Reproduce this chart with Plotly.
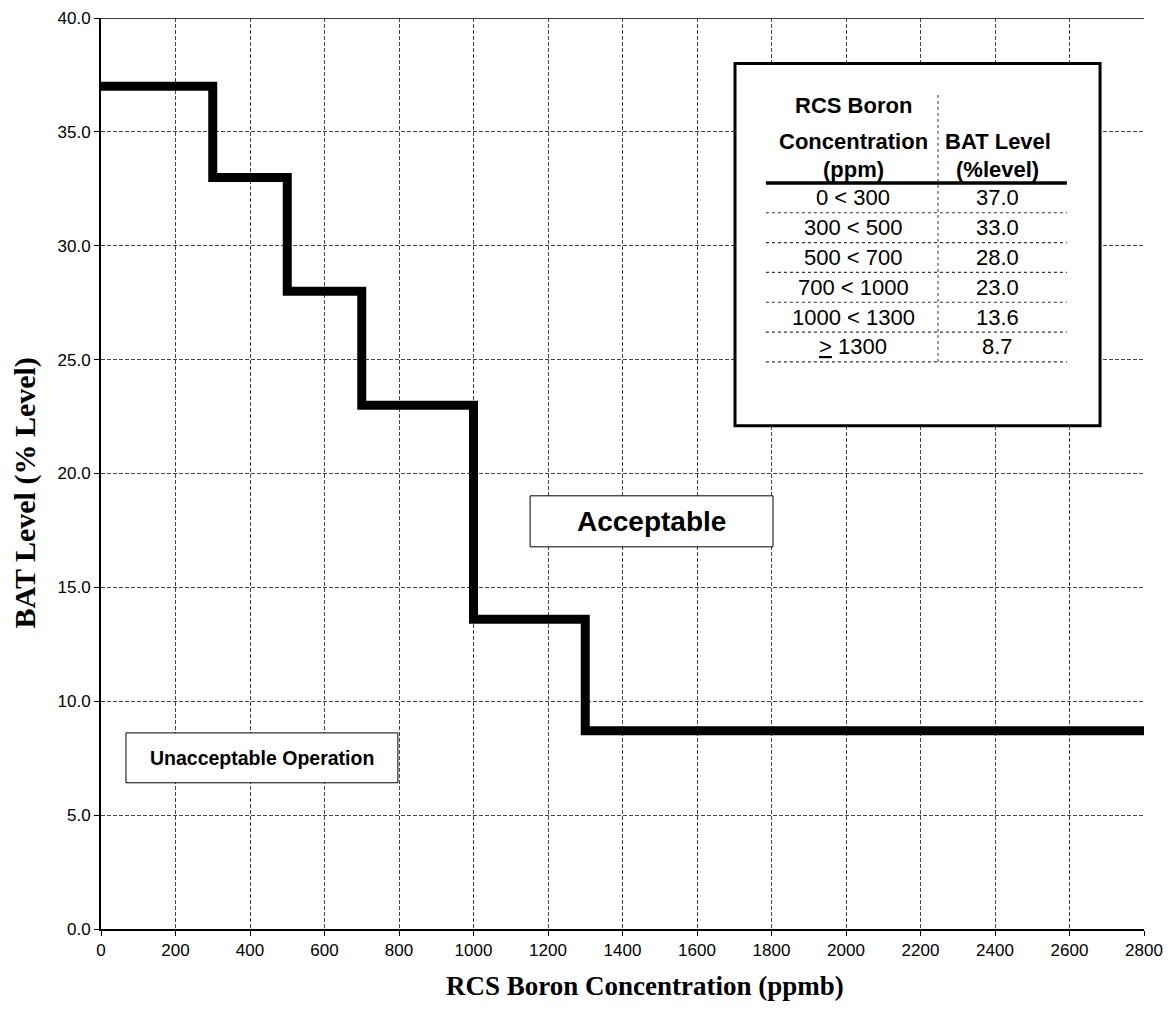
import plotly.graph_objects as go

# Step curve data
boron = [0, 300, 500, 700, 1000, 1300, 2800]
bat = [37.0, 33.0, 28.0, 23.0, 13.6, 8.7, 8.7]

# Table content
table_ranges = ["0 < 300", "300 < 500", "500 < 700", "700 < 1000", "1000 < 1300", "<u>></u> 1300"]
table_levels = ["37.0", "33.0", "28.0", "23.0", "13.6", "8.7"]

x_ticks = list(range(0, 2801, 200))
y_ticks = [0, 5, 10, 15, 20, 25, 30, 35, 40]

SANS = "Liberation Sans, Arial, sans-serif"
SERIF = "Liberation Serif, Times New Roman, serif"

fig = go.Figure()
fig.add_trace(go.Scatter(
    x=boron, y=bat, mode="lines", line=dict(shape="hv", color="black", width=9),
    showlegend=False, hoverinfo="skip"))

shapes = []
annotations = []

# top frame line
shapes.append(dict(type="line", xref="x", yref="y", x0=0, x1=2800, y0=40, y1=40,
                   line=dict(color="black", width=1.5)))

# Table box
tx0, tx1, ty0, ty1 = 1702, 2682, 22.1, 38.0
shapes.append(dict(type="rect", x0=tx0, x1=tx1, y0=ty0, y1=ty1, xref="x", yref="y",
                   line=dict(color="black", width=3), fillcolor="white", layer="above"))
col1_x, col2_x, div_x = 2019, 2408, 2247
line_x0, line_x1 = 1785, 2593
header_line_y = 32.76
row_h = 1.31
shapes.append(dict(type="line", x0=line_x0, x1=line_x1, y0=header_line_y, y1=header_line_y,
                   line=dict(color="black", width=3.5), layer="above"))
shapes.append(dict(type="line", x0=div_x, x1=div_x, y0=header_line_y - row_h * len(table_ranges), y1=36.7,
                   line=dict(color="#333", width=1, dash="dot"), layer="above"))
for i in range(len(table_ranges)):
    yl = header_line_y - row_h * (i + 1)
    shapes.append(dict(type="line", x0=line_x0, x1=line_x1, y0=yl, y1=yl,
                       line=dict(color="#333", width=1.2, dash="dot"), layer="above"))
    yc = header_line_y - row_h * (i + 0.5)
    annotations.append(dict(x=col1_x, y=yc, text=table_ranges[i], showarrow=False,
                            font=dict(family=SANS, size=22, color="black")))
    annotations.append(dict(x=col2_x, y=yc, text=table_levels[i], showarrow=False,
                            font=dict(family=SANS, size=22, color="black")))

hdr_font = dict(family=SANS, size=22, color="black")
annotations += [
    dict(x=col1_x, y=36.14, text="<b>RCS Boron</b>", showarrow=False, font=hdr_font),
    dict(x=col1_x, y=34.56, text="<b>Concentration</b>", showarrow=False, font=hdr_font),
    dict(x=col1_x, y=33.33, text="<b>(ppm)</b>", showarrow=False, font=hdr_font),
    dict(x=col2_x, y=34.56, text="<b>BAT Level</b>", showarrow=False, font=hdr_font),
    dict(x=col2_x, y=33.33, text="<b>(%level)</b>", showarrow=False, font=hdr_font),
]

# Acceptable box
shapes.append(dict(type="rect", x0=1152, x1=1804, y0=16.78, y1=19.02, line=dict(color="black", width=1),
                   fillcolor="white", layer="above"))
annotations.append(dict(x=1478, y=17.9, text="<b>Acceptable</b>", showarrow=False,
                        font=dict(family=SANS, size=28, color="black")))
# Unacceptable box
shapes.append(dict(type="rect", x0=67, x1=797, y0=6.42, y1=8.61, line=dict(color="black", width=1),
                   fillcolor="white", layer="above"))
annotations.append(dict(x=432, y=7.5, text="<b>Unacceptable Operation</b>", showarrow=False,
                        font=dict(family=SANS, size=19.5, color="black")))

# Axis titles
annotations.append(dict(xref="paper", yref="paper", x=0.5, y=0, xshift=22, yshift=-57,
                        text="<b>RCS Boron Concentration (ppmb)</b>", showarrow=False,
                        xanchor="center", yanchor="middle",
                        font=dict(family=SERIF, size=27, color="black")))
annotations.append(dict(xref="paper", yref="paper", x=0, y=0.5, xshift=-77, yshift=-20,
                        text="<b>BAT Level (% Level)</b>", showarrow=False, textangle=-90,
                        xanchor="center", yanchor="middle",
                        font=dict(family=SERIF, size=30, color="black")))

fig.update_layout(
    width=1155, height=993,
    margin=dict(l=93, r=19, t=10, b=72),
    paper_bgcolor="white", plot_bgcolor="white",
    shapes=shapes, annotations=annotations,
    xaxis=dict(range=[0, 2800], tickvals=x_ticks, showgrid=True, gridcolor="#444", griddash="4px,2px",
               gridwidth=1, showline=True, linecolor="black", linewidth=2, ticks="outside", ticklen=5,
               tickcolor="black", zeroline=False, automargin=False,
               tickfont=dict(family=SANS, size=17, color="black")),
    yaxis=dict(range=[0, 40], tickvals=y_ticks, tickformat=".1f", showgrid=True, gridcolor="#444",
               griddash="4px,2px", gridwidth=1, showline=True, linecolor="black", linewidth=2,
               ticks="outside", ticklen=5, tickcolor="black", zeroline=False, automargin=False,
               tickfont=dict(family=SANS, size=17, color="black")),
)

fig.write_html("out.html")
